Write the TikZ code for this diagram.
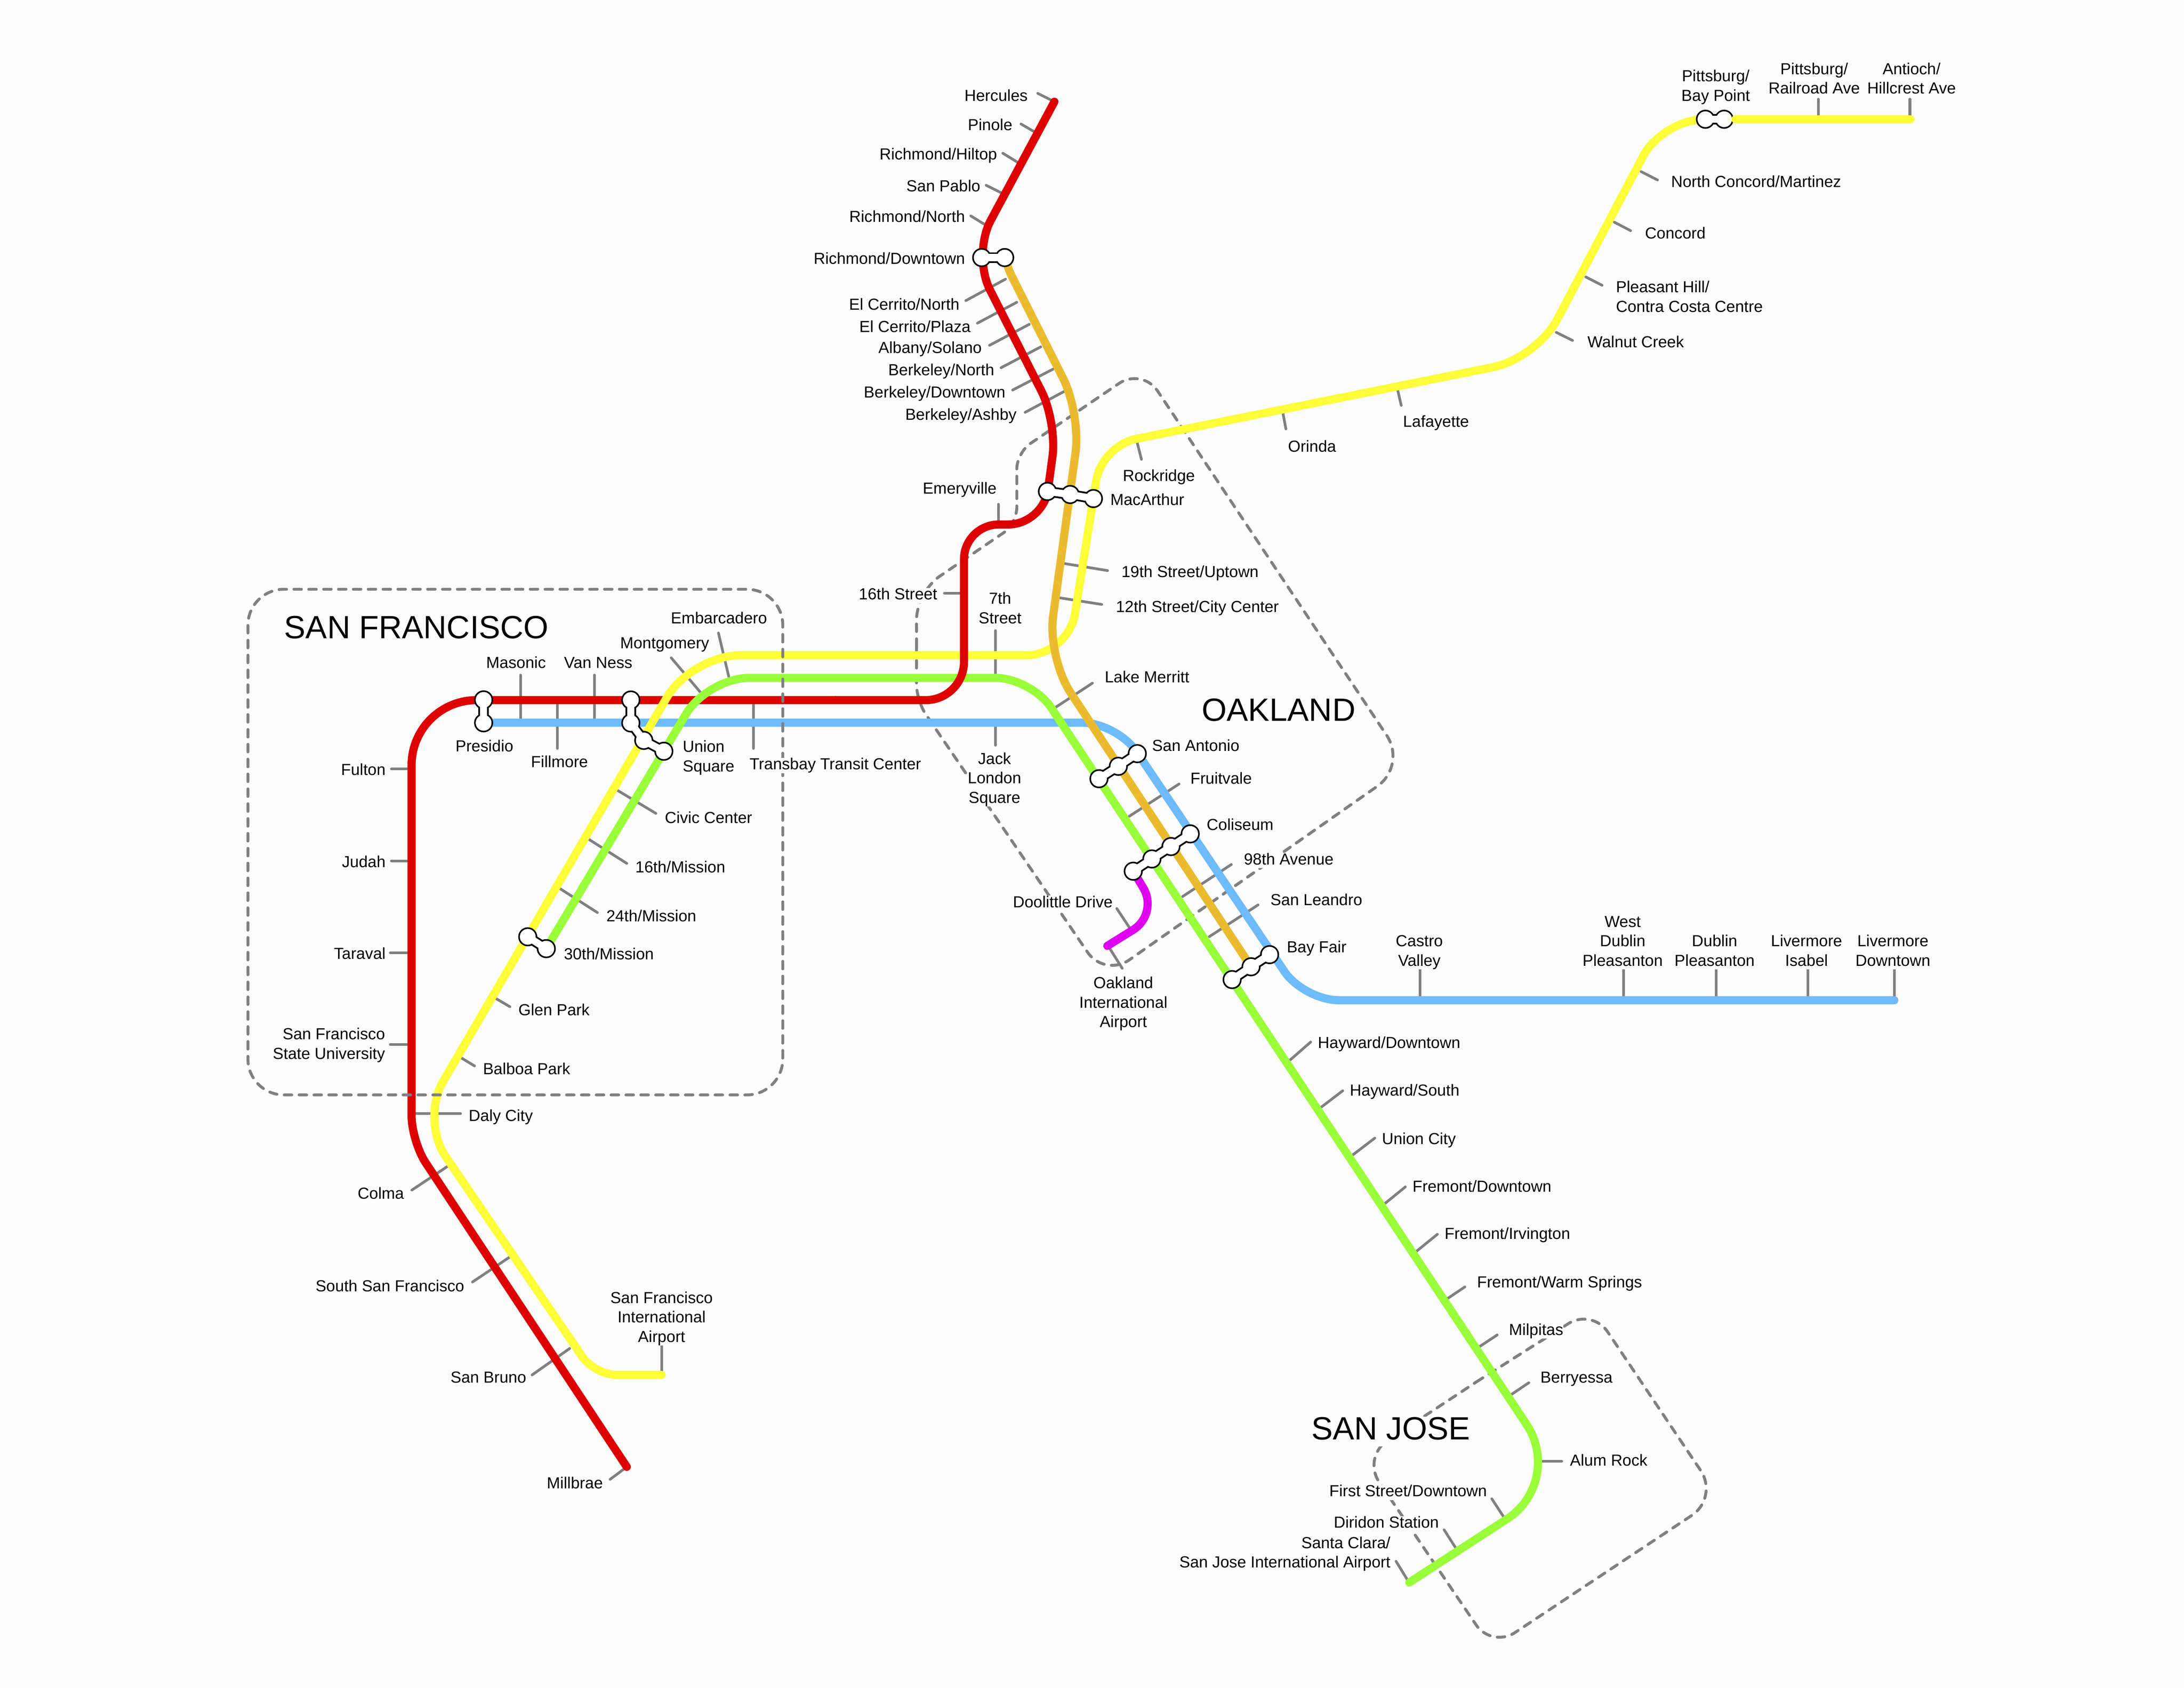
\documentclass[tikz,border=0pt]{standalone}
\usepackage{fontspec}
\setmainfont{Liberation Sans}
\definecolor{bgc}{HTML}{FCFCFC}
\definecolor{cred}{HTML}{DC0000}
\definecolor{cyel}{HTML}{FDFD3A}
\definecolor{cgrn}{HTML}{9AFD3A}
\definecolor{cblu}{HTML}{6EBBFB}
\definecolor{cgld}{HTML}{EBBB2F}
\definecolor{cmag}{HTML}{DE00EE}
\definecolor{cgry}{HTML}{808080}
\tikzset{
  metro/.style={line width=7pt,line cap=round,line join=round},
  tickline/.style={draw=cgry,line width=2.3pt,line cap=round},
  zone/.style={draw=cgry,line width=2.5pt,line cap=round,dash pattern=on 6.5pt off 6.3pt},
  lab/.style={fill=bgc,inner xsep=0pt,inner ysep=0pt,yshift=-1.8pt,font=\fontsize{13.8}{16.8}\selectfont},
  zonetitle/.style={fill=bgc,inner sep=0pt,text height=19.6pt,text depth=5.7pt,yshift=-3.2pt,font=\fontsize{27.7}{32}\selectfont},
  xo/.style={draw=black,line width=9.1pt,line cap=round,line join=round},
  xi/.style={draw=white,line width=6.1pt,line cap=round,line join=round},
}
\newcommand\tk[3]{\coordinate (#1-a) at (#2);\coordinate (#1-b) at (#3);\draw[tickline] (#1-a) -- (#1-b);}
\newcommand\lb[5][]{\node[lab,anchor=#3,#1] (#2) at (#4) {\rule{0pt}{10.2pt}#5\rule[-2.9pt]{0pt}{2.9pt}};}
\newcommand\xfer[2]{%
  \draw[xo] #1;
  \foreach \q in {#2}{\fill[black] (\q) circle[radius=8.2pt];}
  \draw[xi] #1;
  \foreach \q in {#2}{\fill[white] (\q) circle[radius=6.8pt];}
}
\begin{document}
\begin{tikzpicture}[x=1.2pt,y=-1.2pt]
\useasboundingbox (0,0) rectangle (1568,1211.6);
\fill[bgc] (0,0) rectangle (1568,1211.6);

% zones under the lines
\draw[zone] (658,464) [rounded corners=24pt] -- (658,425) [rounded corners=14pt] -- (730,376) [rounded corners=14pt] -- (730,325) [rounded corners=24pt] -- (820,264) [rounded corners=31pt] -- (1010,549.6) [rounded corners=26pt] -- (793,701.5) [rounded corners=14pt] -- (658,503) -- (658,464);
\draw[zone] (1060,992) [rounded corners=24pt] -- (1143,939.4) [rounded corners=28pt] -- (1234,1075) [rounded corners=24pt] -- (1071,1183) [rounded corners=26pt] -- (978,1046) -- (1060,992);

% ticks
\tk{t1}{745,67}{757,73}
\tk{t2}{733,89}{745,96}
\tk{t3}{720,110}{733,118}
\tk{t4}{708,133}{722,140}
\tk{t5}{697,155}{710,163}
\tk{t6}{693.4,215.8}{721.9,200.4}
\tk{t7}{701.7,232}{730,217}
\tk{t8}{710.4,247.9}{739,232.8}
\tk{t9}{718.7,264}{747.2,249}
\tk{t10}{727,280}{756,265}
\tk{t11}{736,296}{764,281}
\tk{t12}{716.8,362}{716.8,376.5}
\tk{t13}{678,426}{692,426}
\tk{t14}{714.7,452.7}{714.7,486.6}
\tk{t15}{714.7,519}{714.7,535}
\tk{t16}{784.3,490.4}{757.5,508}
\tk{t17}{819.5,329.8}{816,316}
\tk{t18}{795.2,409.6}{763.4,404.4}
\tk{t19}{791,433.9}{759.8,429}
\tk{t20}{923.2,307.9}{920.6,294}
\tk{t21}{1006,291}{1003,278}
\tk{t22}{1129,244.4}{1117.3,238.6}
\tk{t23}{1150.2,204.8}{1138.5,198.8}
\tk{t24}{1170.7,165.6}{1159,159.5}
\tk{t25}{1190,129.2}{1178.2,123.2}
\tk{t26}{1305.4,71.2}{1305.4,85.6}
\tk{t27}{1371.2,71.2}{1371.2,85.6}
\tk{t28}{373.7,484.6}{373.7,518.8}
\tk{t29}{426.7,484.6}{426.7,518.8}
\tk{t30}{400.2,537.3}{400.2,502.6}
\tk{t31}{540.9,537.3}{540.9,502.6}
\tk{t32}{481.9,472.2}{505,499.5}
\tk{t33}{515.8,454.4}{523.2,485.6}
\tk{t34}{470.9,583.9}{441,566}
\tk{t35}{450,619.8}{421,601.4}
\tk{t36}{428.9,655.1}{400,636.6}
\tk{t37}{366.1,722.7}{353,715}
\tk{t38}{340.7,765.2}{328,757.5}
\tk{t39}{330.7,799.4}{295.5,799.4}
\tk{t40}{295.7,854.3}{324,835.5}
\tk{t41}{339.2,920.3}{368,901}
\tk{t42}{382,987}{409,968}
\tk{t43}{438,1062}{450,1053}
\tk{t44}{281,552}{295.5,552}
\tk{t45}{281,618}{295.5,618}
\tk{t46}{280.2,684}{295.5,684}
\tk{t47}{280.2,749.7}{295.5,749.7}
\tk{t48}{475,965}{475,987}
\tk{t49}{1019.5,696}{1019.5,718}
\tk{t50}{1165.5,696}{1165.5,718}
\tk{t51}{1232,696}{1232,718}
\tk{t52}{1298,696}{1298,718}
\tk{t53}{1360,696}{1360,718}
\tk{t54}{846.5,562.8}{810.7,586}
\tk{t55}{884,620.6}{849,643.6}
\tk{t56}{903.2,649.6}{868.2,672.4}
\tk{t57}{801.8,652.2}{810.7,665.6}
\tk{t58}{805.7,695.1}{796.5,680.5}
\tk{t59}{941,748}{925,762}
\tk{t60}{964,783}{947,796}
\tk{t61}{987,817}{970,830}
\tk{t62}{1009,852}{993,865}
\tk{t63}{1032,886}{1016,899}
\tk{t64}{1051.7,923.8}{1038,933}
\tk{t65}{1074.9,958.3}{1061,967.5}
\tk{t66}{1097.6,992.6}{1083.7,1002}
\tk{t67}{1121.3,1048.9}{1104,1048.9}
\tk{t68}{1071,1075.9}{1079.6,1089}
\tk{t69}{1036.8,1098.2}{1045.3,1111.5}
\tk{t70}{1002.3,1120.8}{1011,1135}

% lines
\draw[metro,cblu] (347.2,518.8) [rounded corners=30pt] -- (802,518.8) [rounded corners=30pt] -- (936,718) -- (1360,718);
\draw[metro,cred] (450,1053) [rounded corners=22pt] -- (295.5,819.4) [rounded corners=56pt] -- (295.5,502.6) -- (600,502.6);
\draw[metro,cyel] (475,987) [rounded corners=19pt] -- (427,987) [rounded corners=38pt] -- (302,804) [rounded corners=42pt] -- (496.4,470.4) [rounded corners=36pt] -- (767,470.4) [rounded corners=30pt] -- (791,320) [rounded corners=38pt] -- (1103.3,257.3) [rounded corners=36pt] -- (1193.6,85.6) -- (1224.4,85.6);
\draw[metro,cgrn] (392.2,681) [rounded corners=36pt] -- (508,486.6) [rounded corners=31pt] -- (740.5,486.6) [rounded corners=59pt] -- (1123.2,1063.6) -- (1011.8,1136);
\draw[metro,cred] (600,502.6) [rounded corners=33pt] -- (692.1,502.6) [rounded corners=30pt] -- (692.1,376.5) [rounded corners=30pt] -- (749,376.5) [rounded corners=30pt] -- (759,303) [rounded corners=33.6pt] -- (698,183) -- (757,73);
\draw[metro,cgld] (721.3,185) [rounded corners=10pt] -- (723,191.5) [rounded corners=33.6pt] -- (776,297) [rounded corners=36pt] -- (752,472) -- (898.2,694);
\draw[metro,cmag] (813.6,625.4) [rounded corners=26pt] -- (832,656) -- (795,679);

% transfer stations
\coordinate (pr1) at (347.2,502.4); \coordinate (pr2) at (347.2,518.9);
\xfer{(pr1) -- (pr2)}{pr1,pr2}
\coordinate (un1) at (452.9,502.5); \coordinate (un2) at (452.9,519); \coordinate (un3) at (462.2,531.5); \coordinate (un4) at (476.6,539.3);
\xfer{(un1) -- (un2) -- (un3) -- (un4)}{un1,un2,un3,un4}
\coordinate (rd1) at (704.8,184.9); \coordinate (rd2) at (721.3,184.9);
\xfer{(rd1) -- (rd2)}{rd1,rd2}
\coordinate (ma1) at (752,352.8); \coordinate (ma2) at (768.3,355); \coordinate (ma3) at (785,357.9);
\xfer{(ma1) -- (ma2) -- (ma3)}{ma1,ma2,ma3}
\coordinate (mi1) at (378.9,672.5); \coordinate (mi2) at (392.2,681);
\xfer{(mi1) -- (mi2)}{mi1,mi2}
\coordinate (pb1) at (1224.4,85.6); \coordinate (pb2) at (1237.8,85.6);
\xfer{(pb1) -- (pb2)}{pb1,pb2}
\coordinate (sa1) at (816.5,541); \coordinate (sa2) at (802.9,550.1); \coordinate (sa3) at (789,559);
\xfer{(sa1) -- (sa2) -- (sa3)}{sa1,sa2,sa3}
\coordinate (co1) at (854.5,598.6); \coordinate (co2) at (840.7,607.7); \coordinate (co3) at (827,616.6); \coordinate (co4) at (813.6,625.4);
\xfer{(co1) -- (co2) -- (co3) -- (co4)}{co1,co2,co3,co4}
\coordinate (bf1) at (911.5,685.3); \coordinate (bf2) at (898.2,694); \coordinate (bf3) at (884.6,703.2);
\xfer{(bf1) -- (bf2) -- (bf3)}{bf1,bf2,bf3}

\draw[metro,cyel] (1245.9,85.6) -- (1371.6,85.6);

% San Francisco zone lies over the lines
\draw[zone] (370,423) [rounded corners=31pt] -- (562,423) -- (562,786) -- (178,786) -- (178,423) -- (370,423);

% zone titles
\node[zonetitle] (zsf) at (299,450) {SAN FRANCISCO};
\node[zonetitle] (zoa) at (918,509) {OAKLAND};
\node[zonetitle] (zsj) at (998.5,1025) {SAN JOSE};

% labels
\lb{hercules}{east}{738,68}{Hercules}
\lb{pinole}{east}{727,89}{Pinole}
\lb{hiltop}{east}{716,110}{Richmond/Hiltop}
\lb{sanpablo}{east}{704,133}{San Pablo}
\lb{rnorth}{east}{693,155}{Richmond/North}
\lb{rdown}{east}{693,185}{Richmond/Downtown}
\lb{ecn}{east}{689,218}{El Cerrito/North}
\lb{ecp}{east}{697,234}{El Cerrito/Plaza}
\lb{albany}{east}{705,249}{Albany/Solano}
\lb{bnorth}{east}{714,265}{Berkeley/North}
\lb{bdown}{east}{722,281}{Berkeley/Downtown}
\lb{bashby}{east}{730,297}{Berkeley/Ashby}
\lb{emery}{center}{689,350}{Emeryville}
\lb{st16}{east}{673,426}{16th Street}
\lb[align=center]{st7}{center}{718,436}{7th\\Street}
\lb[align=center]{jack}{center}{714,558}{Jack\\London\\Square}
\lb{lake}{west}{793,485.5}{Lake Merritt}
\lb{macarthur}{west}{797,358}{MacArthur}
\lb{rockridge}{center}{832,341}{Rockridge}
\lb{st19}{west}{805,410}{19th Street/Uptown}
\lb{st12}{west}{801,435}{12th Street/City Center}
\lb{orinda}{center}{942,320}{Orinda}
\lb{lafayette}{center}{1031,302}{Lafayette}
\lb{walnut}{west}{1139.6,245}{Walnut Creek}
\lb[align=left]{pleasant}{west}{1160,212.5}{Pleasant Hill/\\Contra Costa Centre}
\lb{concord}{west}{1180.9,166.7}{Concord}
\lb{nconcord}{west}{1199.6,129.8}{North Concord/Martinez}
\lb[align=center]{baypoint}{center}{1231.8,61}{Pittsburg/\\Bay Point}
\lb[align=center]{railroad}{center}{1302.5,55.8}{Pittsburg/\\Railroad Ave}
\lb[align=center]{antioch}{center}{1372.4,55.8}{Antioch/\\Hillcrest Ave}
\lb{masonic}{center}{370.5,475.2}{Masonic}
\lb{vanness}{center}{429.5,475.2}{Van Ness}
\lb{fillmore}{center}{401.7,546.4}{Fillmore}
\lb{presidio}{center}{347.8,535.1}{Presidio}
\lb[align=left]{union}{west}{490,542.4}{Union\\Square}
\lb{transbay}{west}{538,548}{Transbay Transit Center}
\lb{montgomery}{center}{477.2,460.9}{Montgomery}
\lb{embarcadero}{center}{516.2,443}{Embarcadero}
\lb{civic}{west}{477.2,586.4}{Civic Center}
\lb{m16}{west}{456,621.8}{16th/Mission}
\lb{m24}{west}{435.2,657}{24th/Mission}
\lb{m30}{west}{404.7,684.3}{30th/Mission}
\lb{glen}{west}{372,724.3}{Glen Park}
\lb{balboa}{west}{346.6,766.6}{Balboa Park}
\lb{daly}{west}{336.4,800.3}{Daly City}
\lb{colma}{east}{290.2,856}{Colma}
\lb{ssf}{east}{333.5,922.5}{South San Francisco}
\lb{bruno}{east}{378,988}{San Bruno}
\lb{millbrae}{east}{433,1064}{Millbrae}
\lb{fulton}{east}{277,552}{Fulton}
\lb{judah}{east}{277,618}{Judah}
\lb{taraval}{east}{277,684}{Taraval}
\lb[align=right]{sfsu}{east}{276.6,748.8}{San Francisco\\State University}
\lb[align=center]{sfo}{center}{475,945}{San Francisco\\International\\Airport}
\lb[align=center]{castro}{center}{1019,682}{Castro\\Valley}
\lb[align=center]{wdublin}{center}{1165,675}{West\\Dublin\\Pleasanton}
\lb[align=center]{dublin}{center}{1231,682}{Dublin\\Pleasanton}
\lb[align=center]{isabel}{center}{1297,682}{Livermore\\Isabel}
\lb[align=center]{lvdown}{center}{1359,682}{Livermore\\Downtown}
\lb{antonio}{west}{827,534.7}{San Antonio}
\lb{fruitvale}{west}{854.5,558.3}{Fruitvale}
\lb{coliseum}{west}{866.2,591.6}{Coliseum}
\lb{ave98}{west}{892.9,616.3}{98th Avenue}
\lb{leandro}{west}{912,645.4}{San Leandro}
\lb{bayfair}{west}{923.7,679.2}{Bay Fair}
\lb{doolittle}{east}{799,646.9}{Doolittle Drive}
\lb[align=center]{oak}{center}{806.5,719}{Oakland\\International\\Airport}
\lb{haydown}{west}{946,748}{Hayward/Downtown}
\lb{haysouth}{west}{969,782}{Hayward/South}
\lb{ucity}{west}{992,817}{Union City}
\lb{frdown}{west}{1014,851}{Fremont/Downtown}
\lb{frirv}{west}{1037,885}{Fremont/Irvington}
\lb{frwarm}{west}{1060.3,919.9}{Fremont/Warm Springs}
\lb{milpitas}{west}{1083.2,953.9}{Milpitas}
\lb{berry}{west}{1105.8,988.2}{Berryessa}
\lb{alum}{west}{1127,1047.8}{Alum Rock}
\lb{first}{east}{1067.7,1069.8}{First Street/Downtown}
\lb{diridon}{east}{1033.2,1092.4}{Diridon Station}
\lb[align=right]{santaclara}{east}{998.4,1113.9}{Santa Clara/\\San Jose International Airport}
\end{tikzpicture}
\end{document}
